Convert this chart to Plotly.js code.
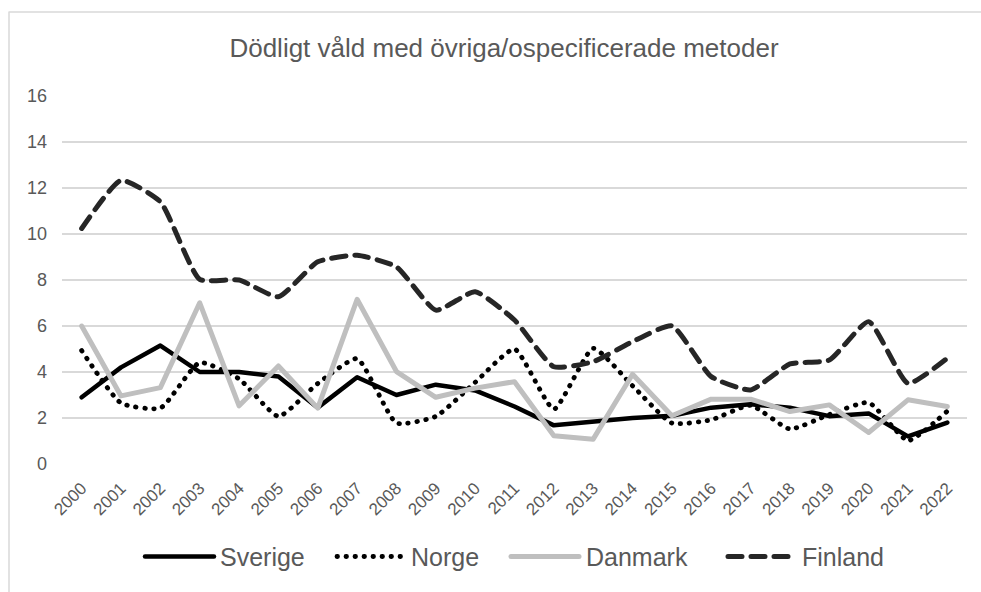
<!DOCTYPE html>
<html>
<head>
<meta charset="utf-8">
<script src="https://cdn.plot.ly/plotly-3.0.1.min.js"></script>
<style>
  html, body { margin: 0; padding: 0; background: #ffffff; overflow: hidden; }
  #chart { width: 981px; height: 592px; }
  #chart .scatterlayer .js-line, #chart .shapelayer path { stroke-linecap: round; stroke-linejoin: round; }
</style>
</head>
<body>
<div id="chart"></div>
<script>
// ---- data ----
const years = ["2000","2001","2002","2003","2004","2005","2006","2007","2008","2009","2010","2011",
               "2012","2013","2014","2015","2016","2017","2018","2019","2020","2021","2022"];
const sverige = [2.9, 4.2, 5.15, 4.0, 4.0, 3.8, 2.45, 3.77, 3.0, 3.45, 3.2, 2.5,
                 1.68, 1.85, 2.0, 2.1, 2.45, 2.6, 2.45, 2.08, 2.2, 1.2, 1.8];
const norge   = [4.93, 2.65, 2.43, 4.41, 3.7, 2.07, 3.5, 4.58, 1.78, 2.07, 3.55, 5.0,
                 2.38, 5.03, 3.4, 1.78, 1.92, 2.55, 1.52, 2.15, 2.67, 1.02, 2.3];
const danmark = [6.0, 2.96, 3.32, 7.01, 2.53, 4.26, 2.43, 7.16, 4.02, 2.9, 3.3, 3.58,
                 1.23, 1.08, 3.9, 2.1, 2.82, 2.82, 2.28, 2.57, 1.37, 2.79, 2.5];
const finland = [10.24, 12.33, 11.4, 8.03, 8.0, 7.27, 8.79, 9.08, 8.57, 6.69, 7.49, 6.26,
                 4.23, 4.45, 5.32, 6.01, 3.8, 3.22, 4.35, 4.52, 6.19, 3.51, 4.6];
const seriesNames = ["Sverige", "Norge", "Danmark", "Finland"];
const titleText = "Dödligt våld med övriga/ospecificerade metoder";

// ---- styles ----
const FONT = '"Liberation Sans", Arial, sans-serif';
const TXT = '#595959';
const styles = [
  {color: '#000000', width: 4.5, dash: 'solid', shape: 'linear'},
  {color: '#000000', width: 4.8, dash: '0.5px,8.5px', shape: 'spline'},
  {color: '#bfbfbf', width: 5, dash: 'solid', shape: 'linear'},
  {color: '#262626', width: 5, dash: '14px,9px', shape: 'spline'}
];
const values = [sverige, norge, danmark, finland];

const traces = values.map((v, i) => ({
  type: 'scatter', mode: 'lines', name: seriesNames[i],
  x: years, y: v,
  line: {color: styles[i].color, width: styles[i].width, dash: styles[i].dash,
         shape: styles[i].shape, smoothing: 0.5},
  showlegend: false, hoverinfo: 'x+y+name'
}));

// plot area in px: x 62..967, y 96..464
const L = 62, R = 967, T = 96, B = 464;
const W = R - L, H = B - T;
const px = x => (x - L) / W;
const py = y => (B - y) / H;

// custom legend (line samples + labels)
const legendY = 556.5;
const legendItems = [
  {x0: 145, x1: 214, tx: 218},
  {x0: 337, x1: 403, tx: 409},
  {x0: 511, x1: 579, tx: 584},
  {x0: 728, x1: 791, tx: 800}
];
const shapes = [{
  type: 'rect', xref: 'paper', yref: 'paper',
  x0: px(9), x1: px(1020), y0: py(620), y1: py(12),
  line: {color: '#d9d9d9', width: 1.5}, fillcolor: 'rgba(0,0,0,0)', layer: 'below'
}];
const annotations = [];
legendItems.forEach((it, i) => {
  shapes.push({
    type: 'line', xref: 'paper', yref: 'paper',
    x0: px(it.x0), x1: px(it.x1), y0: py(legendY), y1: py(legendY),
    line: {color: styles[i].color, width: styles[i].width, dash: styles[i].dash}
  });
  annotations.push({
    xref: 'paper', yref: 'paper', x: px(it.tx), y: py(legendY),
    xanchor: 'left', yanchor: 'middle', showarrow: false,
    text: seriesNames[i], font: {family: FONT, size: 25, color: TXT}
  });
});

const layout = {
  width: 981, height: 592,
  margin: {l: L, r: 981 - R, t: T, b: 592 - B, pad: 0},
  paper_bgcolor: '#ffffff', plot_bgcolor: '#ffffff',
  font: {family: FONT, color: TXT},
  title: {
    text: titleText, font: {family: FONT, size: 26, color: TXT},
    xref: 'container', yref: 'container', x: 504 / 981, y: 1 - 48 / 592,
    xanchor: 'center', yanchor: 'middle'
  },
  xaxis: {
    type: 'category', range: [-0.5, years.length - 0.5],
    tickangle: -45, tickfont: {family: FONT, size: 17, color: TXT},
    showgrid: false, zeroline: false, showline: false, ticks: '',
    ticklabelstandoff: 10, fixedrange: true
  },
  yaxis: {
    range: [0, 16], dtick: 2, tick0: 0,
    tickfont: {family: FONT, size: 18, color: TXT},
    showgrid: true, gridcolor: '#d9d9d9', gridwidth: 1.6,
    zeroline: false, showline: false, ticks: '',
    ticklabelstandoff: 14, fixedrange: true
  },
  shapes: shapes,
  annotations: annotations,
  showlegend: false
};

Plotly.newPlot('chart', traces, layout, {displayModeBar: false, staticPlot: true});
</script>
</body>
</html>
